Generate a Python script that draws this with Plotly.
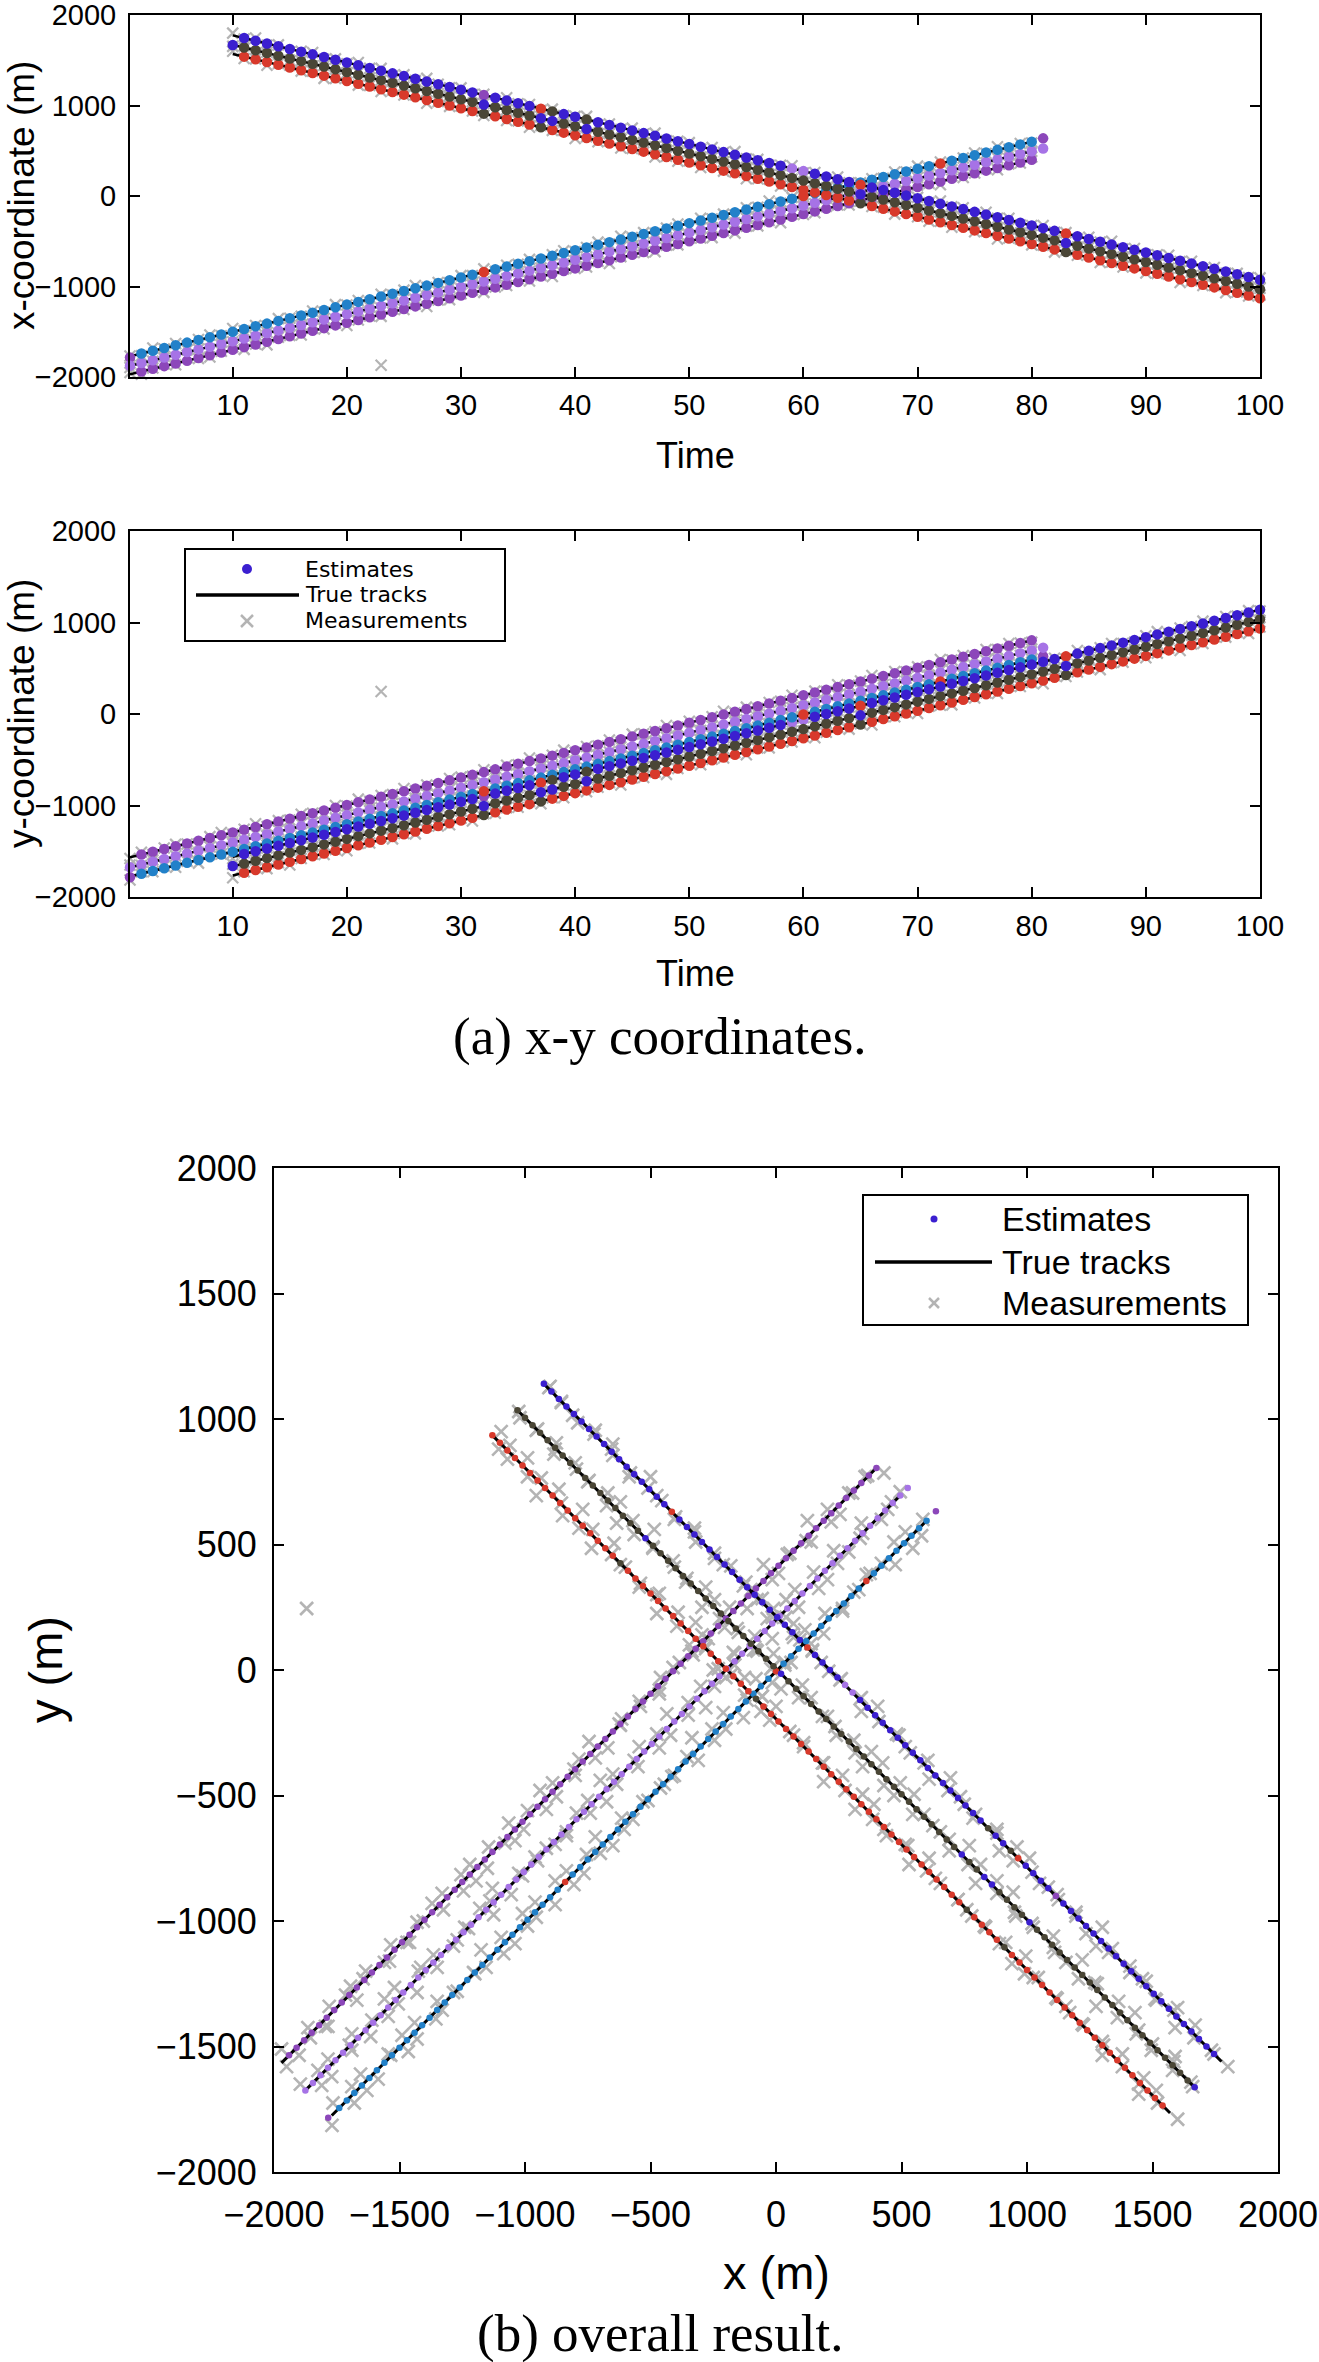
import plotly.graph_objects as go

W, H = 1319, 2362

# ---------------- data ----------------
TRACKS = ["A1", "A2", "A3", "B1", "B2", "B3"]
COLORS = {"A1": "#3b1fd0", "A2": "#4a4636", "A3": "#d8392b",
          "B1": "#8c47ba", "B2": "#a673e6", "B3": "#2281c9"}
MEAS_COLOR = "#b4b4b4"

# first time step of each position list
T0 = {"A1": 10, "A2": 10, "A3": 10, "B1": 1, "B2": 1, "B3": 1}

A1_x = [1775, 1745, 1715, 1685, 1655, 1625, 1595, 1565, 1535, 1505, 1475,
        1445, 1415, 1385, 1355, 1325, 1295, 1265, 1235, 1205, 1175,
        1145, 1115, 1085, 1055, 1025, 995, 965, 935, 905, 875,
        845, 815, 785, 755, 725, 695, 665, 635, 605, 575,
        545, 515, 485, 455, 425, 395, 365, 335, 305, 275,
        245, 215, 185, 155, 125, 95, 65, 35, 5, -25,
        -55, -85, -115, -145, -175, -205, -235, -265, -295, -325,
        -355, -385, -415, -445, -475, -505, -535, -565, -595, -625,
        -655, -685, -715, -745, -775, -805, -835, -865, -895, -925]
A1_y = [-1560, -1530, -1500, -1470, -1440, -1410, -1380, -1350, -1320, -1290, -1260,
        -1230, -1200, -1170, -1140, -1110, -1080, -1050, -1020, -990, -960,
        -930, -900, -870, -840, -810, -780, -750, -720, -690, -660,
        -630, -600, -570, -540, -510, -480, -450, -420, -390, -360,
        -330, -300, -270, -240, -210, -180, -150, -120, -90, -60,
        -30, 0, 30, 60, 90, 120, 150, 180, 210, 240,
        270, 300, 330, 360, 390, 420, 450, 480, 510, 540,
        570, 600, 630, 660, 690, 720, 750, 780, 810, 840,
        870, 900, 930, 960, 990, 1020, 1050, 1080, 1110, 1140]
A2_x = [1668, 1640, 1610, 1580, 1550, 1520, 1490, 1460, 1430, 1400,
        1370, 1340, 1310, 1280, 1250, 1220, 1190, 1160, 1130, 1100,
        1070, 1040, 1010, 980, 950, 920, 890, 860, 830, 800,
        770, 740, 710, 680, 650, 620, 590, 560, 530, 500,
        470, 440, 410, 380, 350, 320, 290, 260, 230, 200,
        170, 140, 110, 80, 50, 20, -10, -40, -70, -100,
        -130, -160, -190, -220, -250, -280, -310, -340, -370, -400,
        -430, -460, -490, -520, -550, -580, -610, -640, -670, -700,
        -730, -760, -790, -820, -850, -880, -910, -940, -970, -1000,
        -1030]
A2_y = [-1662, -1635, -1605, -1575, -1545, -1515, -1485, -1455, -1425, -1395,
        -1365, -1335, -1305, -1275, -1245, -1215, -1185, -1155, -1125, -1095,
        -1065, -1035, -1005, -975, -945, -915, -885, -855, -825, -795,
        -765, -735, -705, -675, -645, -615, -585, -555, -525, -495,
        -465, -435, -405, -375, -345, -315, -285, -255, -225, -195,
        -165, -135, -105, -75, -45, -15, 15, 45, 75, 105,
        135, 165, 195, 225, 255, 285, 315, 345, 375, 405,
        435, 465, 495, 525, 555, 585, 615, 645, 675, 705,
        735, 765, 795, 825, 855, 885, 915, 945, 975, 1005,
        1035]
A3_x = [1570, 1540, 1510, 1480, 1450, 1420, 1390, 1360, 1330, 1300,
        1270, 1240, 1210, 1180, 1150, 1120, 1090, 1060, 1030, 1000,
        970, 940, 910, 880, 850, 820, 790, 760, 730, 700,
        670, 640, 610, 580, 550, 520, 490, 460, 430, 400,
        370, 340, 310, 280, 250, 220, 190, 160, 130, 100,
        70, 40, 10, -20, -50, -80, -110, -140, -170, -200,
        -230, -260, -290, -320, -350, -380, -410, -440, -470, -500,
        -530, -560, -590, -620, -650, -680, -710, -740, -770, -800,
        -830, -860, -890, -920, -950, -980, -1010, -1040, -1070, -1100,
        -1130]
A3_y = [-1765, -1735, -1705, -1675, -1645, -1615, -1585, -1555, -1525, -1495,
        -1465, -1435, -1405, -1375, -1345, -1315, -1285, -1255, -1225, -1195,
        -1165, -1135, -1105, -1075, -1045, -1015, -985, -955, -925, -895,
        -865, -835, -805, -775, -745, -715, -685, -655, -625, -595,
        -565, -535, -505, -475, -445, -415, -385, -355, -325, -295,
        -265, -235, -205, -175, -145, -115, -85, -55, -25, 5,
        35, 65, 95, 125, 155, 185, 215, 245, 275, 305,
        335, 365, 395, 425, 455, 485, 515, 545, 575, 605,
        635, 665, 695, 725, 755, 785, 815, 845, 875, 905,
        935]
B1_x = [-1970, -1940, -1910, -1880, -1850, -1820, -1790, -1760, -1730, -1700,
        -1670, -1640, -1610, -1580, -1550, -1520, -1490, -1460, -1430, -1400,
        -1370, -1340, -1310, -1280, -1250, -1220, -1190, -1160, -1130, -1100,
        -1070, -1040, -1010, -980, -950, -920, -890, -860, -830, -800,
        -770, -740, -710, -680, -650, -620, -590, -560, -530, -500,
        -470, -440, -410, -380, -350, -320, -290, -260, -230, -200,
        -170, -140, -110, -80, -50, -20, 10, 40, 70, 100,
        130, 160, 190, 220, 250, 280, 310, 340, 370, 400]
B1_y = [-1565, -1535, -1505, -1475, -1445, -1415, -1385, -1355, -1325, -1295,
        -1265, -1235, -1205, -1175, -1145, -1115, -1085, -1055, -1025, -995,
        -965, -935, -905, -875, -845, -815, -785, -755, -725, -695,
        -665, -635, -605, -575, -545, -515, -485, -455, -425, -395,
        -365, -335, -305, -275, -245, -215, -185, -155, -125, -95,
        -65, -35, -5, 25, 55, 85, 115, 145, 175, 205,
        235, 265, 295, 325, 355, 385, 415, 445, 475, 505,
        535, 565, 595, 625, 655, 685, 715, 745, 775, 805]
B2_x = [-1875, -1845, -1815, -1785, -1755, -1725, -1695, -1665, -1635, -1605,
        -1575, -1545, -1515, -1485, -1455, -1425, -1395, -1365, -1335, -1305,
        -1275, -1245, -1215, -1185, -1155, -1125, -1095, -1065, -1035, -1005,
        -975, -945, -915, -885, -855, -825, -795, -765, -735, -705,
        -675, -645, -615, -585, -555, -525, -495, -465, -435, -405,
        -375, -345, -315, -285, -255, -225, -195, -165, -135, -105,
        -75, -45, -15, 15, 45, 75, 105, 135, 165, 195,
        225, 255, 285, 315, 345, 375, 405, 435, 465, 495,
        525]
B2_y = [-1675, -1645, -1615, -1585, -1555, -1525, -1495, -1465, -1435, -1405,
        -1375, -1345, -1315, -1285, -1255, -1225, -1195, -1165, -1135, -1105,
        -1075, -1045, -1015, -985, -955, -925, -895, -865, -835, -805,
        -775, -745, -715, -685, -655, -625, -595, -565, -535, -505,
        -475, -445, -415, -385, -355, -325, -295, -265, -235, -205,
        -175, -145, -115, -85, -55, -25, 5, 35, 65, 95,
        125, 155, 185, 215, 245, 275, 305, 335, 365, 395,
        425, 455, 485, 515, 545, 575, 605, 635, 665, 695,
        725]
B3_x = [-1784, -1740, -1710, -1680, -1650, -1620, -1590, -1560, -1530, -1500,
        -1470, -1440, -1410, -1380, -1350, -1320, -1290, -1260, -1230, -1200,
        -1170, -1140, -1110, -1080, -1050, -1020, -990, -960, -930, -900,
        -870, -840, -810, -780, -750, -720, -690, -660, -630, -600,
        -570, -540, -510, -480, -450, -420, -390, -360, -330, -300,
        -270, -240, -210, -180, -150, -120, -90, -60, -30, 0,
        30, 60, 90, 120, 150, 180, 210, 240, 270, 300,
        330, 360, 390, 420, 450, 480, 510, 540, 570, 600,
        637]
B3_y = [-1784, -1745, -1715, -1685, -1655, -1625, -1595, -1565, -1535, -1505,
        -1475, -1445, -1415, -1385, -1355, -1325, -1295, -1265, -1235, -1205,
        -1175, -1145, -1115, -1085, -1055, -1025, -995, -965, -935, -905,
        -875, -845, -815, -785, -755, -725, -695, -665, -635, -605,
        -575, -545, -515, -485, -455, -425, -395, -365, -335, -305,
        -275, -245, -215, -185, -155, -125, -95, -65, -35, -5,
        25, 55, 85, 115, 145, 175, 205, 235, 265, 295,
        325, 355, 385, 415, 445, 475, 505, 535, 565, 595,
        632]

POS_X = {"A1": A1_x, "A2": A2_x, "A3": A3_x, "B1": B1_x, "B2": B2_x, "B3": B3_x}
POS_Y = {"A1": A1_y, "A2": A2_y, "A3": A3_y, "B1": B1_y, "B2": B2_y, "B3": B3_y}

# time steps carrying an estimate
EST_RANGE = {"A1": (11, 100), "A2": (10, 100), "A3": (11, 100),
             "B1": (2, 80), "B2": (1, 81), "B3": (1, 81)}
# estimates drawn with another track's colour (label switches)
LABEL_SWITCH = {
    "A1": {32: "B1", 37: "A3", 38: "A2", 41: "A2", 59: "B2", 60: "B2", 65: "A3", 83: "A3"},
    "A2": {10: "A1", 32: "A1", 37: "A1", 38: "A1", 41: "A1", 65: "A1", 83: "A1"},
    "A3": {32: "A2", 37: "A2", 65: "A2", 83: "A2"},
    "B3": {1: "B1", 32: "A3", 60: "A3", 72: "A3", 81: "B1"},
}

# true tracks (constant velocity): start and end points
TRUE_T = {"A1": [10, 100], "A2": [10, 100], "A3": [10, 100],
          "B1": [1, 80], "B2": [1, 80], "B3": [1, 80]}
TRUE_X = {"A1": [1775, -925], "A2": [1670, -1030], "A3": [1570, -1130],
          "B1": [-1970, 400], "B2": [-1875, 495], "B3": [-1770, 600]}
TRUE_Y = {"A1": [-1560, 1140], "A2": [-1665, 1035], "A3": [-1765, 935],
          "B1": [-1565, 805], "B2": [-1675, 695], "B3": [-1775, 595]}

# measurement offsets from the track position at every step (m)
MEAS_RANGE = {"A1": (10, 100), "A2": (10, 100), "A3": (10, 100),
              "B1": (1, 80), "B2": (1, 80), "B3": (1, 80)}
A1_dx = [25, -10, 30, -20, 15, -35, 5, 20, -25, 10, -15, 30, -5, 25, -30, 15, -20, 35, 0, -10,
         20, -25, 10, -35, 30, -5, 15, -20, 25, -15, 5, 35, -30, 10, -20, 25, -10, 30, -25, 0,
         15, -30, 20, -5, 35, -15, 10, -25, 5, 30, -20, 15, -35, 25, -10, 20, -30, 5, 35, -15,
         10, -20, 30, -5, 15, -35, 25, -10, 20, -25, 0, 30, -15, 10, -30, 20, -5, 35, -20, 15,
         -25, 5, 30, -10, 25, -35, 15, -20, 10, -5, 20]
A1_dy = [-20, 15, -30, 5, 25, -15, 35, -5, 10, -25, 30, -10, 20, -35, 15, 0, -20, 25, -30, 10,
         -5, 35, -15, 20, -25, 5, 30, -10, 15, -30, 25, -20, 10, -5, 35, -25, 0, 20, -15, 30,
         -10, 25, -30, 15, -20, 5, 35, -15, 10, -25, 20, -5, 30, -35, 15, -10, 25, -20, 5, 35,
         -30, 10, -15, 20, -25, 30, -5, 15, -35, 0, 25, -20, 10, -30, 35, -15, 5, 20, -10, -25,
         15, 30, -20, 10, -5, 25, -35, 15, -10, 20, -15]
A2_dx = [-15, 20, -30, 10, 35, -20, 5, -25, 15, 30, -10, 25, -35, 0, 20, -15, 30, -5, -25, 10,
         35, -20, 15, -30, 5, 25, -10, 20, -35, 15, -5, 30, -20, 10, -25, 35, 0, -15, 20, -30,
         25, -10, 15, -35, 30, -5, 20, -25, 10, -15, 35, 0, -20, 25, -30, 15, -10, 30, -5, 20,
         -25, 10, -35, 20, 5, -15, 30, -20, 15, -10, 25, -30, 0, 35, -15, 10, -25, 20, -5, 30,
         -20, 15, -10, 25, -35, 5, 30, -15, 20, -25, 10]
A2_dy = [20, -25, 10, 35, -15, 25, -30, 5, -10, 30, -20, 15, -35, 25, 0, -15, 30, -10, 20, -30,
         5, 25, -20, 10, -35, 30, -5, 15, -25, 20, -10, 35, -15, 0, 25, -30, 10, -20, 30, -5,
         15, -25, 35, -10, 20, -15, 5, 30, -35, 10, -20, 25, -5, 15, -30, 35, -10, 20, 0, -25,
         30, -15, 10, -20, 25, -35, 15, 5, -10, 30, -25, 20, -5, 35, -15, 10, -30, 25, -20, 0,
         15, -10, 30, -25, 5, 20, -35, 10, -15, 25, -30]
A3_dx = [30, -20, 5, -35, 15, 25, -10, 20, -30, 0, 35, -15, 10, -25, 20, -5, 30, -35, 15, -10,
         25, 0, -20, 35, -15, 10, -30, 20, -5, 25, -35, 15, -10, 30, -20, 5, 25, -30, 10, -15,
         20, -25, 35, -5, 15, -30, 0, 25, -20, 10, -15, 30, -35, 20, -10, 25, -5, 15, -30, 35,
         0, -20, 10, -25, 30, -15, 20, -35, 5, 25, -10, 15, -30, 20, -5, 35, -25, 10, -15, 30,
         -20, 5, 25, -35, 15, -10, 20, -30, 10, -5, 35]
A3_dy = [-25, 10, 30, -15, 20, -35, 5, 25, -10, 15, -30, 20, -5, 35, -20, 10, -25, 30, 0, -15,
         25, -35, 15, -10, 20, -5, 30, -25, 10, -20, 35, -15, 5, 25, -30, 15, -10, 20, -35, 0,
         30, -20, 10, -5, 25, -30, 15, -15, 35, -10, 20, -25, 5, 30, -20, 10, -35, 25, -5, 15,
         -30, 20, 0, -25, 35, -10, 15, -20, 30, -5, 10, -35, 25, -15, 5, 20, -30, 15, -10, 35,
         -20, 0, 25, -30, 10, -15, 30, -5, 20, -25, 15]
B1_dx = [20, -30, 10, 25, -15, 35, -5, -20, 15, 30, -25, 5, -35, 20, 10, -15, 30, -10, 25, -30,
         0, 15, -20, 35, -5, 25, -30, 10, -15, 20, 30, -25, 5, -10, 35, -20, 15, -30, 25, 0,
         -15, 20, -35, 10, 30, -5, -25, 15, -10, 35, 5, -20, 25, -30, 15, -10, 20, -35, 30, -5,
         -15, 25, 10, -20, 35, -30, 0, 15, -25, 20, 10, -35, 30, -15, 5, 25, -20, 15, -5, 30]
B1_dy = [-15, 25, -30, 10, 20, -5, -35, 15, 30, -20, 5, 35, -25, 10, -15, 20, 0, -30, 25, -10,
         35, -20, 15, -5, 30, -25, 10, -35, 20, 5, -15, 25, -30, 15, -10, 35, -20, 5, 30, -25,
         10, -15, 20, -35, 25, 0, -10, 30, -20, 15, -30, 5, 35, -15, 20, -25, 10, -5, 30, -35,
         15, -20, 25, -10, 5, 35, -30, 20, -15, 10, -25, 30, -5, 15, -35, 20, -10, 25, 0, -20]
B2_dx = [-20, 35, -10, 15, -30, 25, 5, -25, 20, -5, 30, -15, 10, -35, 25, 0, -20, 15, -30, 35,
         -10, 20, -25, 5, 30, -15, -35, 10, 25, -20, 15, -5, 35, -30, 20, -10, 0, 25, -15, 30,
         -25, 10, -35, 20, 5, -20, 30, -10, 15, -30, 25, -5, 35, -15, 10, -25, 20, 0, -35, 15,
         -10, 30, -20, 25, -5, 15, -30, 35, -15, 10, 20, -25, 5, 30, -10, -35, 15, 25, -20, 0]
B2_dy = [25, -10, 20, -35, 5, 30, -20, 15, -25, 10, -5, 35, -15, 20, -30, 25, 10, -20, 0, 30,
         -25, 15, -10, 35, -20, 5, 25, -30, 15, -5, 30, -15, 20, -25, 10, -35, 25, -5, 15, -20,
         35, -10, 0, 25, -30, 20, -15, 10, -25, 30, -5, 15, -35, 20, -10, 25, -20, 30, 5, -15,
         10, -30, 20, -5, 35, -25, 15, -10, 25, -35, 0, 20, -15, 30, -20, 10, -5, 35, -25, 15]
B3_dx = [15, -25, 30, -10, 20, -35, 5, 25, -15, 35, -20, 10, -30, 25, 0, -10, 20, -25, 30, -5,
         15, -35, 25, -15, 10, 30, -20, 5, -30, 20, -10, 35, -25, 15, -5, 20, -30, 10, 25, -15,
         0, 30, -20, 35, -10, 15, -25, 5, 20, -35, 25, -15, 10, -30, 20, -5, 35, -20, 15, -10,
         30, -25, 5, 20, -35, 10, -15, 25, -5, 30, -20, 15, -30, 0, 25, -10, 35, -25, 10, -15]
B3_dy = [-30, 20, -10, 25, -20, 15, -35, 30, 5, -15, 20, -25, 10, -5, 35, -30, 15, -20, 25, 0,
         -10, 30, -15, 20, -35, 5, 25, -20, 10, -30, 35, -10, 15, -25, 20, -5, 30, -35, 0, 15,
         -20, 25, -10, 30, -15, 5, -30, 20, -25, 35, -5, 10, -20, 15, -35, 25, -10, 30, -15, 20,
         5, -25, 35, -10, 15, -30, 20, 0, -20, 25, -15, 30, -5, 10, -25, 35, -20, 15, -30, 5]
MEAS_DX = {"A1": A1_dx, "A2": A2_dx, "A3": A3_dx, "B1": B1_dx, "B2": B2_dx, "B3": B3_dx}
MEAS_DY = {"A1": A1_dy, "A2": A2_dy, "A3": A3_dy, "B1": B1_dy, "B2": B2_dy, "B3": B3_dy}
# clutter measurement
CLUTTER_T = [23]
CLUTTER_X = [-1870]
CLUTTER_Y = [245]

for k in TRACKS:
    s, e = EST_RANGE[k]
    assert len(POS_X[k]) == len(POS_Y[k]) >= e - T0[k] + 1, k
    ms, me = MEAS_RANGE[k]
    assert len(MEAS_DX[k]) == len(MEAS_DY[k]) == me - ms + 1, k

# ---------------- assemble points ----------------
est = {k: ([], [], []) for k in TRACKS}      # by colour label: t, x, y
for k in TRACKS:
    s, e = EST_RANGE[k]
    for t in range(s, e + 1):
        i = t - T0[k]
        lab = LABEL_SWITCH.get(k, {}).get(t, k)
        est[lab][0].append(t)
        est[lab][1].append(POS_X[k][i])
        est[lab][2].append(POS_Y[k][i])

meas_t, meas_x, meas_y = [], [], []
for k in TRACKS:
    ms, me = MEAS_RANGE[k]
    for j, t in enumerate(range(ms, me + 1)):
        i = t - T0[k]
        meas_t.append(t)
        meas_x.append(POS_X[k][i] + MEAS_DX[k][j])
        meas_y.append(POS_Y[k][i] + MEAS_DY[k][j])
meas_t += CLUTTER_T
meas_x += CLUTTER_X
meas_y += CLUTTER_Y

# ---------------- figure ----------------
def PX(px):
    return px / W


def PY(py):
    return 1 - py / H


FONT = "Liberation Sans"
SERIF = "Liberation Serif"

fig = go.Figure()


def pick(kind, t, x, y):
    return {"t": t, "x": x, "y": y}[kind]


panels = [("x", "y", "t", "x"), ("x2", "y2", "t", "y"), ("x3", "y3", "x", "y")]
for xa, ya, hx, vy in panels:
    big = xa == "x3"
    # measurements
    fig.add_trace(go.Scatter(
        x=pick(hx, meas_t, meas_x, meas_y), y=pick(vy, meas_t, meas_x, meas_y),
        xaxis=xa, yaxis=ya, mode="markers", cliponaxis=False,
        marker=dict(symbol="x-thin", size=13 if big else 11, color=MEAS_COLOR,
                    line=dict(width=2.6 if big else 2.2, color=MEAS_COLOR)),
        hoverinfo="skip"))
    # true tracks
    for k in TRACKS:
        fig.add_trace(go.Scatter(
            x=pick(hx, TRUE_T[k], TRUE_X[k], TRUE_Y[k]),
            y=pick(vy, TRUE_T[k], TRUE_X[k], TRUE_Y[k]),
            xaxis=xa, yaxis=ya, mode="lines",
            line=dict(color="black", width=3 if big else 2.5), hoverinfo="skip"))
    # estimates
    for k in ["B1", "B2", "B3", "A3", "A2", "A1"]:
        t, x, y = est[k]
        fig.add_trace(go.Scatter(
            x=pick(hx, t, x, y), y=pick(vy, t, x, y),
            xaxis=xa, yaxis=ya, mode="markers", cliponaxis=False,
            marker=dict(size=6.5 if big else 10.5, color=COLORS[k], line=dict(width=0)),
            hoverinfo="skip"))

axis_common = dict(showline=True, linecolor="black", linewidth=2, mirror="ticks",
                   ticks="inside", ticklen=10, tickwidth=2, tickcolor="black",
                   showgrid=False, zeroline=False, automargin=False,
                   ticklabeloverflow="allow")

time_ticks = [10, 20, 30, 40, 50, 60, 70, 80, 90, 100]
coord_ticks_small = [-2000, -1000, 0, 1000, 2000]
coord_ticks_big = [-2000, -1500, -1000, -500, 0, 500, 1000, 1500, 2000]

small_font = dict(family=FONT, size=29, color="black")
big_font = dict(family=FONT, size=36, color="black")

fig.update_layout(
    width=W, height=H, margin=dict(l=0, r=0, t=0, b=0, autoexpand=False),
    paper_bgcolor="white", plot_bgcolor="white", showlegend=False,
    xaxis=dict(domain=[PX(130), PX(1260)], anchor="y", range=[1, 100],
               tickvals=time_ticks, tickfont=small_font, ticklabelstandoff=1, **axis_common),
    yaxis=dict(domain=[PY(377), PY(15)], anchor="x", range=[-2000, 2000],
               tickvals=coord_ticks_small, tickfont=small_font, ticklabelstandoff=6, **axis_common),
    xaxis2=dict(domain=[PX(130), PX(1260)], anchor="y2", range=[1, 100],
                tickvals=time_ticks, tickfont=small_font, ticklabelstandoff=2, **axis_common),
    yaxis2=dict(domain=[PY(897), PY(531)], anchor="x2", range=[-2000, 2000],
                tickvals=coord_ticks_small, tickfont=small_font, ticklabelstandoff=6, **axis_common),
    xaxis3=dict(domain=[PX(274), PX(1278)], anchor="y3", range=[-2000, 2000],
                tickvals=coord_ticks_big, tickfont=big_font, ticklabelstandoff=10, **axis_common),
    yaxis3=dict(domain=[PY(2172), PY(1168)], anchor="x3", range=[-2000, 2000],
                tickvals=coord_ticks_big, tickfont=big_font, ticklabelstandoff=8, **axis_common),
)

ann = []


def text(s, cx, cy, size, family=FONT, angle=0, xanchor="center"):
    ann.append(dict(text=s, x=PX(cx), y=PY(cy), xref="paper", yref="paper",
                    showarrow=False, xanchor=xanchor, yanchor="middle", textangle=angle,
                    font=dict(family=family, size=size, color="black")))


text("x-coordinate (m)", 22, 196, 37, angle=-90)
text("Time", 695, 455, 36)
text("y-coordinate (m)", 22, 714, 37, angle=-90)
text("Time", 695, 974, 36)
text("(a) x-y coordinates.", 660, 1036, 53, family=SERIF)
text("y (m)", 45, 1670, 47, angle=-90)
text("x (m)", 776, 2272, 47)
text("(b) overall result.", 660, 2333, 53, family=SERIF)

shapes = []


def legend(box, sym_x, line_x, rows, text_x, size, dot_r, cross_r, family):
    x0, x1, y0, y1 = box
    shapes.append(dict(type="rect", xref="paper", yref="paper",
                       x0=PX(x0), x1=PX(x1), y0=PY(y1), y1=PY(y0),
                       line=dict(color="black", width=2), fillcolor="white", layer="above"))
    r0, r1, r2 = rows
    shapes.append(dict(type="circle", xref="paper", yref="paper",
                       x0=PX(sym_x - dot_r), x1=PX(sym_x + dot_r),
                       y0=PY(r0 + dot_r), y1=PY(r0 - dot_r),
                       fillcolor=COLORS["A1"], line=dict(width=0), layer="above"))
    shapes.append(dict(type="line", xref="paper", yref="paper",
                       x0=PX(line_x[0]), x1=PX(line_x[1]), y0=PY(r1), y1=PY(r1),
                       line=dict(color="black", width=3.5), layer="above"))
    for sgn in (1, -1):
        shapes.append(dict(type="line", xref="paper", yref="paper",
                           x0=PX(sym_x - cross_r), x1=PX(sym_x + cross_r),
                           y0=PY(r2 - sgn * cross_r), y1=PY(r2 + sgn * cross_r),
                           line=dict(color=MEAS_COLOR, width=2.5), layer="above"))
    for s, r in zip(["Estimates", "True tracks", "Measurements"], rows):
        text(s, text_x, r, size, family=family, xanchor="left")


legend((185, 505, 549, 641), 247, (196, 299), (569, 595, 621), 303, 22, 5, 6, "DejaVu Sans")
legend((863, 1248, 1195, 1325), 934, (875, 992), (1219, 1262, 1303), 1000, 34, 3.5, 5, FONT)

fig.update_layout(annotations=ann, shapes=shapes)
fig.write_html("out.html", config={"staticPlot": True, "displayModeBar": False},
               post_script="document.body.style.margin='0px';"
                           "document.body.style.overflow='hidden';")
